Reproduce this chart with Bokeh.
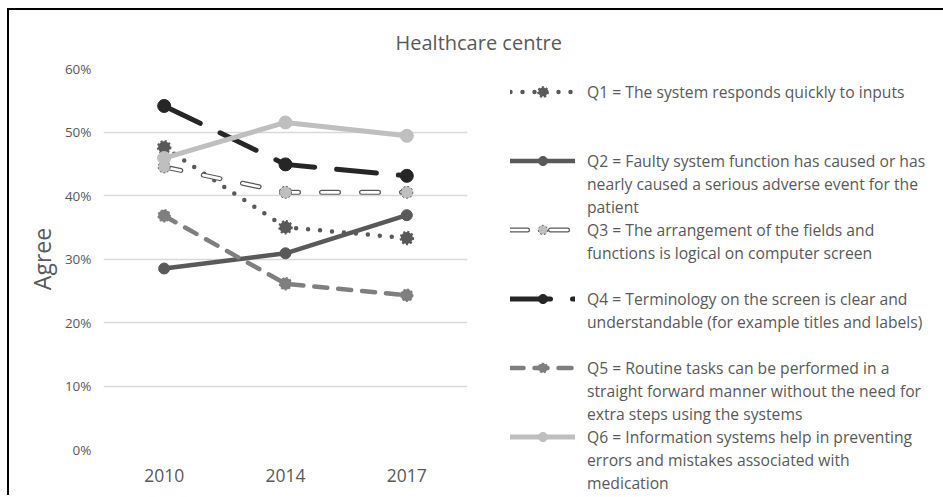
from bokeh.plotting import figure
from bokeh.models import Legend, LegendItem, NumeralTickFormatter, FixedTicker
from bokeh.core.properties import value
from bokeh.embed import file_html
from bokeh.resources import INLINE

# ---- data ----
years = ["2010", "2014", "2017"]
q1 = [0.476, 0.350, 0.333]
q2 = [0.285, 0.309, 0.369]
q3 = [0.445, 0.405, 0.405]
q4 = [0.541, 0.449, 0.431]
q5 = [0.368, 0.261, 0.243]
q6 = [0.459, 0.515, 0.494]
y_ticks = [0.0, 0.1, 0.2, 0.3, 0.4, 0.5, 0.6]
label_lines = [
    ["Q1 = The system responds quickly to inputs"],
    ["Q2 = Faulty system function has caused or has",
     "nearly caused a serious adverse event for the", "patient"],
    ["Q3 = The arrangement of the fields and",
     "functions is logical on computer screen"],
    ["Q4 = Terminology on the screen is clear and",
     "understandable (for example titles and labels)"],
    ["Q5 = Routine tasks can be performed in a",
     "straight forward manner without the need for",
     "extra steps using the systems"],
    ["Q6 = Information systems help in preventing",
     "errors and mistakes associated with", "medication"],
]
title_text = "Healthcare centre"
y_label = "Agree"

# empty legend rows after each entry (layout only)
gap_rows = [2, 0, 1, 1, 0, 0]

FONT = "Open Sans"
TXT = "#595959"
C_DARK = "#595959"
C_BLACK = "#262626"
C_MID = "#7f7f7f"
C_LIGHT = "#bfbfbf"

p = figure(x_range=years, y_range=(0, 0.6), frame_width=364, frame_height=381,
           output_backend="svg", toolbar_location=None,
           min_border_left=94, min_border_right=45,
           min_border_top=58, min_border_bottom=46,
           title=title_text)
p.styles = {"margin-left": "7px", "margin-top": "8px",
            "border-left": "2px solid #000", "border-top": "2px solid #000"}
p.outline_line_color = None
p.background_fill_color = "white"
p.border_fill_color = "white"

p.title.text_font = FONT
p.title.text_font_size = "20px"
p.title.text_font_style = "normal"
p.title.text_color = TXT
p.title.align = "left"
p.title.offset = 292
p.title.standoff = 25

p.xgrid.grid_line_color = None
p.ygrid.grid_line_color = "#d9d9d9"
p.ygrid.grid_line_width = 1.5
p.yaxis.ticker = FixedTicker(ticks=y_ticks)
p.yaxis.formatter = NumeralTickFormatter(format="0%")
for ax in (p.xaxis[0], p.yaxis[0]):
    ax.axis_line_color = None
    ax.major_tick_line_color = None
    ax.minor_tick_line_color = None
    ax.major_label_text_font = FONT
    ax.major_label_text_color = TXT
p.yaxis.major_label_text_font_size = "13.5px"
p.yaxis.major_label_standoff = 6
p.xaxis.major_label_text_font_size = "17.5px"
p.xaxis.major_label_standoff = 13
p.yaxis.axis_label = y_label
p.yaxis.axis_label_text_font = FONT
p.yaxis.axis_label_text_font_size = "23px"
p.yaxis.axis_label_text_font_style = "normal"
p.yaxis.axis_label_text_color = TXT
p.yaxis.axis_label_standoff = 4

DOT = value("2 2")
renderer_sets = []
# Q1 dotted
r1 = p.line(years, q1, line_color=C_DARK, line_width=4.5, line_dash="0 12", line_cap="round")
m1 = p.scatter(years, q1, marker="circle", size=12, fill_color=C_DARK, line_color=C_DARK,
               line_width=2.5, line_dash=DOT)
renderer_sets.append([r1, m1])
# Q2 solid dark
r2 = p.line(years, q2, line_color=C_DARK, line_width=4.5, line_cap="round")
m2 = p.scatter(years, q2, marker="circle", size=11, fill_color=C_DARK, line_color=C_DARK)
renderer_sets.append([r2, m2])
# Q3 compound capsule dashes
r3a = p.line(years, q3, line_color=C_DARK, line_width=5, line_dash="17 23", line_cap="round")
r3b = p.line(years, q3, line_color="white", line_width=2.6, line_dash="17 23", line_cap="round")
m3 = p.scatter(years, q3, marker="circle", size=12, fill_color=C_LIGHT, line_color=C_DARK,
               line_width=1, line_dash=DOT)
renderer_sets.append([r3a, r3b, m3])
# Q4 long dash black
r4 = p.line(years, q4, line_color=C_BLACK, line_width=5, line_dash="40 22", line_cap="round")
m4 = p.scatter(years, q4, marker="circle", size=13, fill_color=C_BLACK, line_color=C_BLACK)
renderer_sets.append([r4, m4])
# Q5 dashed grey
r5 = p.line(years, q5, line_color=C_MID, line_width=4.5, line_dash="13 11", line_cap="round")
m5 = p.scatter(years, q5, marker="circle", size=12, fill_color=C_MID, line_color=C_MID,
               line_width=1.5, line_dash=DOT)
renderer_sets.append([r5, m5])
# Q6 solid light grey
r6 = p.line(years, q6, line_color=C_LIGHT, line_width=5, line_cap="round")
m6 = p.scatter(years, q6, marker="circle", size=13, fill_color=C_LIGHT, line_color=C_LIGHT)
renderer_sets.append([r6, m6])

# invisible renderer used for the wrapped continuation lines of the legend
blank = p.line(x=[], y=[], line_alpha=0)

items = []
for lines, rs, gap in zip(label_lines, renderer_sets, gap_rows):
    items.append(LegendItem(label=lines[0], renderers=rs))
    for extra in lines[1:]:
        items.append(LegendItem(label=extra, renderers=[blank]))
    for _ in range(gap):
        items.append(LegendItem(label="\u00a0", renderers=[blank]))

legend = Legend(items=items, location=(43, -45), margin=0, padding=0,
                border_line_color=None, background_fill_alpha=0,
                glyph_width=65, glyph_height=23, label_standoff=12,
                label_text_font=FONT, label_text_font_size="15.7px",
                label_text_color=TXT, spacing=0, label_height=23)
p.add_layout(legend, "right")

open("out.html", "w").write(file_html(p, INLINE))
